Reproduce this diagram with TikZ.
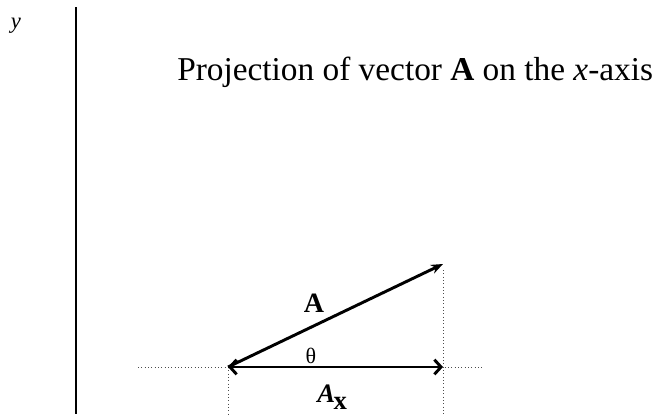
\documentclass[tikz,border=0pt]{standalone}
\usepackage{fontspec}
\setmainfont{Liberation Serif}
\usetikzlibrary{arrows.meta}

\begin{document}
\begin{tikzpicture}[x=0.75pt, y=-0.75pt,
  lbl/.style={inner sep=0pt},
  guide/.style={black!70, line width=0.5pt, dotted},
  vec/.style={line width=2.2pt}]
\useasboundingbox (0,0) rectangle (656,414);
\coordinate (axtop) at (76,7);
\coordinate (axbot) at (76,414);
\coordinate (o) at (228,367);
\coordinate (tip) at (443,264);
\coordinate (foot) at (443,367);
\coordinate (hleft) at (138,367);
\coordinate (hright) at (483,367);
\coordinate (obot) at (228,414);
\coordinate (tiptop) at (443,270);
\coordinate (tipbot) at (443,414);
\draw[line width=1.6pt] (axtop) -- (axbot);
\node[lbl, anchor=base] (ylab) at (16,28) {\fontsize{17}{18}\selectfont\itshape y};
\node[lbl, anchor=base west] (title) at (177,80) {\fontsize{25}{28}\selectfont Projection of vector \textbf{A} on the \textit{x}-axis};
\draw[guide] (hleft) -- (hright);
\draw[guide] (o) -- (obot);
\draw[guide] (tiptop) -- (tipbot);
\draw[vec, -{Stealth[length=9pt, width=7pt]}] (o) -- (tip);
\draw[vec, {Straight Barb[length=5pt, width=11pt]}-{Straight Barb[length=5pt, width=11pt]}] (o) -- (foot);
\node[lbl, anchor=base] (alab) at (314,312) {\fontsize{21}{22}\selectfont\bfseries A};
\node[lbl, anchor=base] (theta) at (311,363) {\fontsize{16.5}{18}\selectfont θ};
\node[lbl, anchor=base west] (axlab) at (317,402) {\fontsize{20}{22}\selectfont\bfseries\itshape A\kern-1pt\raisebox{-5.5pt}{\upshape x}};
\end{tikzpicture}
\end{document}
